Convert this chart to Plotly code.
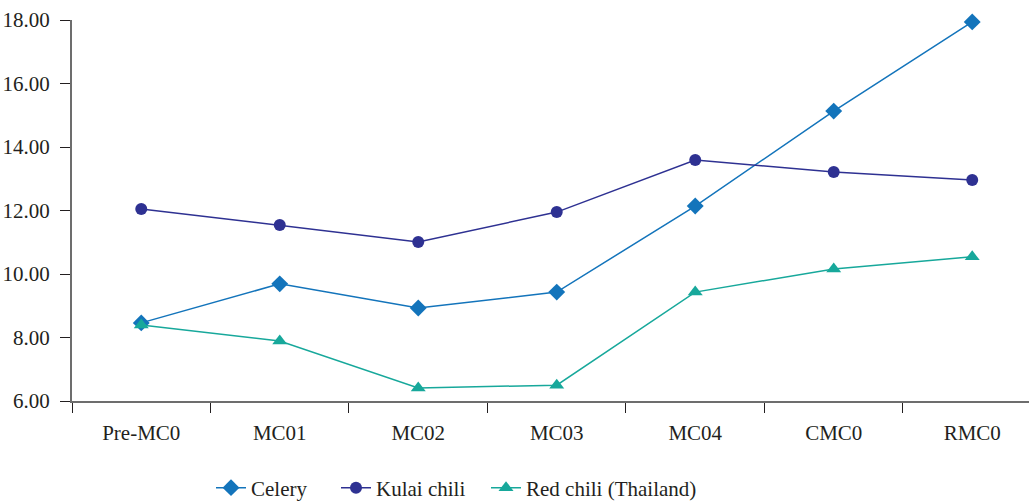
import plotly.graph_objects as go

categories = ["Pre-MC0", "MC01", "MC02", "MC03", "MC04", "CMC0", "RMC0"]
celery = [8.46, 9.69, 8.93, 9.43, 12.14, 15.13, 17.94]
kulai_chili = [12.05, 11.54, 11.01, 11.95, 13.59, 13.21, 12.96]
red_chili_thailand = [8.39, 7.89, 6.41, 6.50, 9.43, 10.16, 10.54]

FONT = "Liberation Serif"
TEXT = "#231f20"
AXIS = "#6d6d6d"
FS = 21

series = [
    ("Celery", celery, "#1374BB", "diamond", 13, "legend"),
    ("Kulai chili", kulai_chili, "#2E3192", "circle", 12, "legend2"),
    ("Red chili (Thailand)", red_chili_thailand, "#17A89B", "triangle-up", 13, "legend3"),
]

fig = go.Figure()
for name, values, color, symbol, size, leg in series:
    fig.add_trace(go.Scatter(
        x=categories, y=values, name=name, mode="lines+markers",
        line=dict(color=color, width=1.5),
        marker=dict(symbol=symbol, size=size, color=color),
        cliponaxis=False, legend=leg,
    ))

PLOT_L, PLOT_T, PLOT_B = 72, 20, 101
PLOT_W = 1029 - PLOT_L
PLOT_H = 502 - PLOT_T - PLOT_B

legend_style = dict(
    orientation="h", xref="paper", yref="paper",
    y=-(488 - (PLOT_T + PLOT_H)) / PLOT_H, yanchor="middle", xanchor="left",
    font=dict(family=FONT, size=FS, color=TEXT),
    bgcolor="rgba(0,0,0,0)",
)

fig.update_layout(
    width=1029, height=502,
    margin=dict(l=PLOT_L, r=0, t=PLOT_T, b=PLOT_B, autoexpand=False),
    paper_bgcolor="white", plot_bgcolor="white",
    font=dict(family=FONT, size=FS, color=TEXT),
    showlegend=True,
    legend=dict(legend_style, x=(211 - PLOT_L) / PLOT_W),
    legend2=dict(legend_style, x=(336 - PLOT_L) / PLOT_W),
    legend3=dict(legend_style, x=(486 - PLOT_L) / PLOT_W),
    xaxis=dict(
        type="category", range=[-0.5, 6.41],
        showline=True, linecolor=AXIS, linewidth=2,
        ticks="outside", tickson="boundaries", ticklen=10, tickcolor=TEXT, tickwidth=1,
        showgrid=False, zeroline=False,
        tickfont=dict(family=FONT, size=FS, color=TEXT),
        ticklabelstandoff=12,
    ),
    yaxis=dict(
        range=[6, 18], dtick=2, tickformat=".2f",
        showline=True, linecolor=AXIS, linewidth=2,
        ticks="outside", ticklen=10, tickcolor=TEXT, tickwidth=1,
        showgrid=False, zeroline=False,
        tickfont=dict(family=FONT, size=FS, color=TEXT),
        ticklabelstandoff=6,
    ),
)

fig.write_html("out.html")
